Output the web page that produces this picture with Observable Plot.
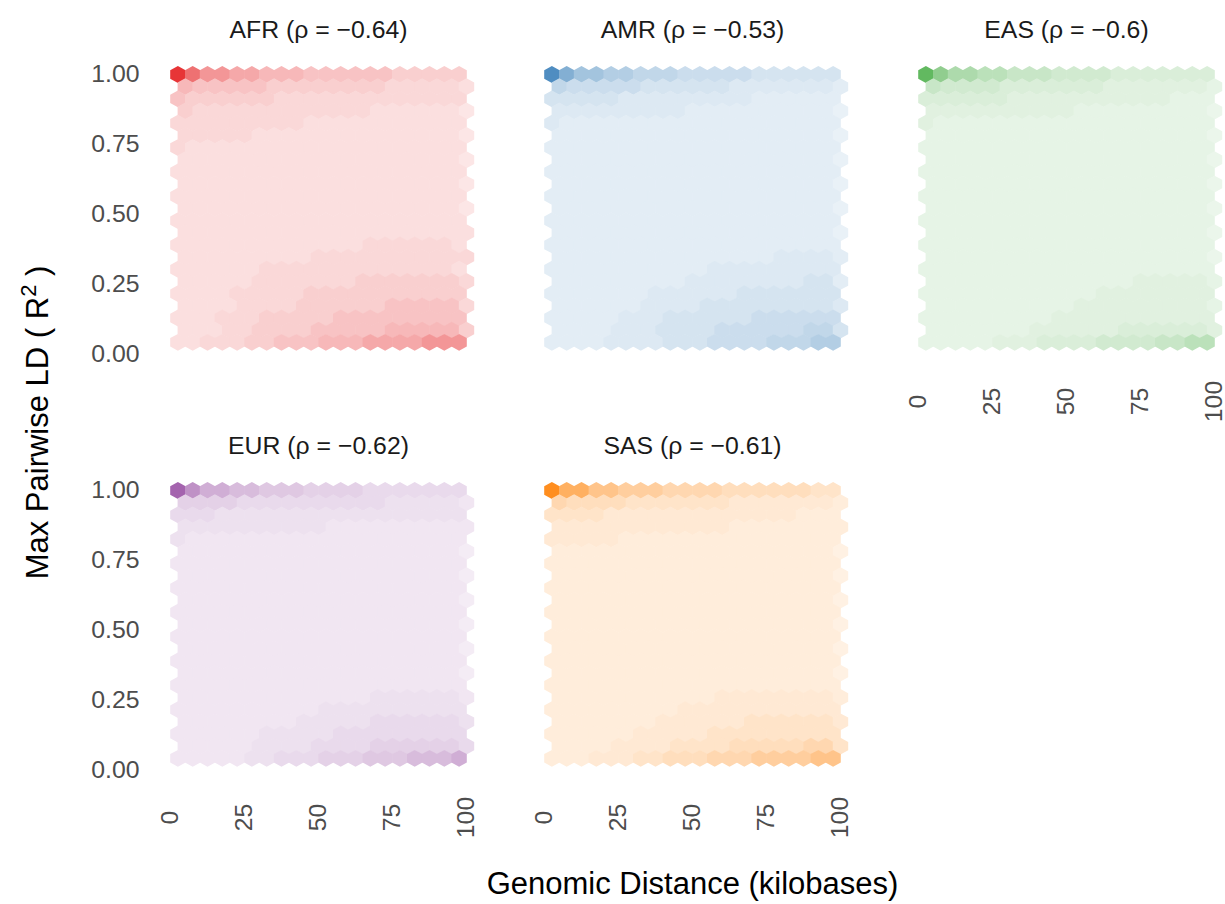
<!DOCTYPE html>
<html>
<head>
<meta charset="utf-8">
<script src="https://cdn.jsdelivr.net/npm/d3@7"></script>
<script src="https://cdn.jsdelivr.net/npm/@observablehq/plot@0.6"></script>
<style>
  html, body { margin: 0; padding: 0; background: #ffffff; }
  #chart { width: 1225px; height: 904px; }
</style>
</head>
<body>
<div id="chart"></div>
<script>
// ---- Data ----
const panels = ["AFR", "AMR", "EAS", "EUR", "SAS"];
const rhoLabels = ["−0.64", "−0.53", "−0.6", "−0.62", "−0.61"];
const panelColors = ["#E41A1C", "#377EB8", "#4DAF4A", "#984EA3", "#FF7F00"];
const panelCol = [0, 1, 2, 0, 1];
const panelRow = [0, 0, 0, 1, 1];
const xTicks = [0, 25, 50, 75, 100];
const yTicks = [0, 0.25, 0.5, 0.75, 1];
const binX = 5;          // kilobases per hexagon column
const binY = 1 / 23;     // R^2 per hexagon row
// density level (0-9) -> opacity of the panel colour
const levelOpacity = [0.11, 0.14, 0.17, 0.21, 0.26, 0.31, 0.38, 0.46, 0.62, 0.88];

// Each string is one hexagon row (top row = R^2 1.00), one digit per hexagon (density level)
const AFR = [
  "98776655544444433333",
  "54444433333333222221",
  "43333332222222222222",
  "32222222222221111110",
  "22222222211111111111",
  "22222111111111111110",
  "21111111111111111111",
  "11111111111111111110",
  "11111111111111111111",
  "11111111111111111110",
  "11111111111111111111",
  "11111111111111111110",
  "11111111111111111111",
  "11111111111111111111",
  "11111111111112222221",
  "11111111122222222222",
  "11111122222222222221",
  "11111222222233333332",
  "11112222233333333333",
  "11112222333333444442",
  "11122233333444444444",
  "11122333344444555553",
  "11222334445556666777"
];
const AMR = [
  "98776655544444333333",
  "54444433333322222221",
  "33333222222222111111",
  "22222222211111111110",
  "21111111111111111111",
  "11111111111111111110",
  "11111111111111111111",
  "11111111111111111110",
  "11111111111111111111",
  "11111111111111111110",
  "11111111111111111111",
  "11111111111111111110",
  "11111111111111111111",
  "11111111111111111110",
  "11111111111111111111",
  "11111111111111122221",
  "11111111111222222222",
  "11111111122222222331",
  "11111112222223333333",
  "11111122223333333332",
  "11111222333333444444",
  "11112223333444444553",
  "11112222333444455566"
];
const EAS = [
  "98776655544443333333",
  "54444333333322222221",
  "33333322222222222111",
  "22222222221111111110",
  "21111111111111111111",
  "11111111111111111110",
  "11111111111111111111",
  "11111111111111111110",
  "11111111111111111111",
  "11111111111111111110",
  "11111111111111111111",
  "11111111111111111110",
  "11111111111111111111",
  "11111111111111111110",
  "11111111111111111111",
  "11111111111111111110",
  "11111111111111111111",
  "11111111111111222221",
  "11111111111122222222",
  "11111111112222222221",
  "11111111122222222222",
  "11111112222223333332",
  "11111222333344445566"
];
const EUR = [
  "98776655544443333333",
  "44443333333333222221",
  "33322222222222222222",
  "22222222221111111111",
  "21111111111111111111",
  "11111111111111111110",
  "11111111111111111111",
  "11111111111111111110",
  "11111111111111111111",
  "11111111111111111110",
  "11111111111111111111",
  "11111111111111111110",
  "11111111111111111111",
  "11111111111111111110",
  "11111111111111111111",
  "11111111111111111110",
  "11111111111111111111",
  "11111111111112222221",
  "11111111112222222222",
  "11111111222223333332",
  "11111122222333333333",
  "11111222233334444443",
  "11111223334445556667"
];
const SAS = [
  "98877666555544444433",
  "54444333333322222221",
  "33332222222222222111",
  "22222222222211111111",
  "22222111111111111111",
  "11111111111111111110",
  "11111111111111111111",
  "11111111111111111110",
  "11111111111111111111",
  "11111111111111111110",
  "11111111111111111111",
  "11111111111111111110",
  "11111111111111111111",
  "11111111111111111110",
  "11111111111111111111",
  "11111111111111111110",
  "11111111111111111111",
  "11111111111222222221",
  "11111111122222222222",
  "11111112222223333332",
  "11111122222333333333",
  "11112222333344444553",
  "11122233444555666677"
];
const panelLevels = [AFR, AMR, EAS, EUR, SAS];

// ---- Build tables ----
const cells = [];
panelLevels.forEach((rows, p) => {
  const col = panelColors[p];
  rows.forEach((str, i) => {
    const y = 1 - i * binY;
    const offset = i % 2 === 0 ? binX / 2 : binX;
    for (let j = 0; j < str.length; ++j) {
      const level = +str[j];
      cells.push({
        panel: panels[p], col: panelCol[p], row: panelRow[p],
        x: offset + j * binX, y,
        fill: d3.interpolateRgb("#ffffff", col)(levelOpacity[level])
      });
    }
  });
});
const titles = panels.map((p, i) => ({
  col: panelCol[i], row: panelRow[i], title: `${p} (ρ = ${rhoLabels[i]})`
}));

// ---- Layout ----
const W = 1225, H = 904;
const mL = 170, mR = 11, mT = 74, mB = 134;
const colStep = 374, frameW = 296;
const rowStep = 416, frameH = 280;
const pxX = frameW / 100, pxY = frameH / 1;
const hexHalfW = binX / 2 * pxX;
const hexR = binY * pxY / 1.5;
const vRatio = hexR / hexHalfW;
const hexSymbol = {
  draw(ctx, size) {
    const r = Math.sqrt(size / Math.PI);
    const rx = r + 0.3, ry = r * vRatio + 0.3, hy = ry / 2;
    ctx.moveTo(0, -ry);
    ctx.lineTo(rx, -hy);
    ctx.lineTo(rx, hy);
    ctx.lineTo(0, ry);
    ctx.lineTo(-rx, hy);
    ctx.lineTo(-rx, -hy);
    ctx.closePath();
  }
};
const font = "'Liberation Sans', Arial, Helvetica, sans-serif";
const yTitle = "Max Pairwise LD ( R2 )";

const chart = Plot.plot({
  width: W, height: H,
  marginLeft: mL, marginRight: mR, marginTop: mT, marginBottom: mB,
  style: { fontFamily: font, background: "#ffffff", overflow: "visible" },
  fx: { domain: [0, 1, 2], axis: null, paddingInner: (colStep - frameW) / colStep, paddingOuter: 0, round: false },
  fy: { domain: [0, 1], axis: null, paddingInner: (rowStep - frameH) / rowStep, paddingOuter: 0, round: false },
  x: { domain: [0, 100] },
  y: { domain: [0, 1] },
  marks: [
    Plot.dot(cells, { x: "x", y: "y", fx: "col", fy: "row", r: hexHalfW, symbol: hexSymbol, fill: "fill", stroke: null }),
    Plot.text(titles, { fx: "col", fy: "row", text: "title", frameAnchor: "top", dy: -44, fontSize: 24.8, fill: "#1a1a1a", lineAnchor: "middle", textAnchor: "middle" }),
    Plot.axisY({ ticks: yTicks, facetAnchor: "left", tickSize: 0, tickPadding: 31, tickFormat: d => d.toFixed(2), fontSize: 24.8, color: "#4d4d4d", label: null }),
    Plot.axisX({ ticks: xTicks, facetAnchor: "bottom-empty", tickSize: 0, tickRotate: -90, textAnchor: "middle", tickPadding: 47, fontSize: 24.8, color: "#4d4d4d", label: null }),
    Plot.text([yTitle], { facet: "super", frameAnchor: "left", rotate: -90, dx: -132, textAnchor: "middle", lineAnchor: "middle", fontSize: 31, fill: "#000000" }),
    Plot.text(["Genomic Distance (kilobases)"], { facet: "super", frameAnchor: "bottom", dy: 114, textAnchor: "middle", lineAnchor: "middle", fontSize: 31, fill: "#000000" })
  ]
});
document.getElementById("chart").appendChild(chart);

// Render the "2" of R2 as a superscript
d3.select(chart).selectAll("text").filter(function () { return this.textContent === yTitle; })
  .each(function () {
    const t = d3.select(this);
    t.text(null);
    t.append("tspan").text("Max Pairwise LD ( R");
    t.append("tspan").attr("dy", -12).attr("font-size", 22).text("2");
    t.append("tspan").attr("dy", 12).text(" )");
  });
</script>
</body>
</html>
